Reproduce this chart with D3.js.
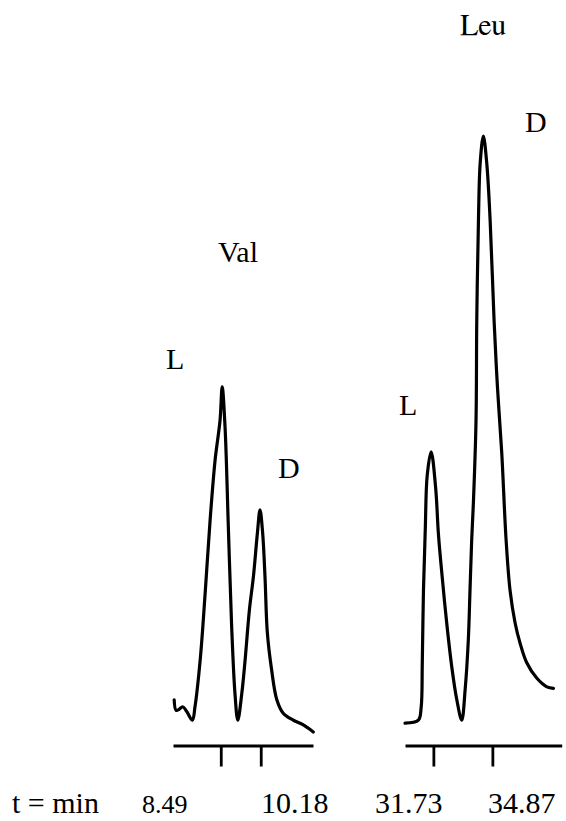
<!DOCTYPE html>
<html>
<head>
<meta charset="utf-8">
<script src="https://cdn.jsdelivr.net/npm/d3@7"></script>
</head>
<body style="margin:0">
<script>
// ---- data (retention time in min, detector signal in arbitrary units) ----
const valTime = [6.52, 6.60, 6.74, 6.88, 7.05, 7.29, 7.40, 7.62, 7.83, 8.04, 8.25, 8.46, 8.55, 8.67, 8.81, 8.95, 9.09, 9.21, 9.38, 9.52, 9.70, 9.87, 10.04, 10.15, 10.26, 10.36, 10.46, 10.64, 10.86, 11.13, 11.56, 11.98, 12.40];
const valSignal = [3.8, 2.0, 2.2, 2.6, 1.8, 0.3, 2.6, 10.6, 22.0, 34.5, 44.7, 51.5, 57.2, 50.4, 33.3, 16.3, 4.9, 0.3, 4.9, 10.6, 19.1, 24.8, 32.3, 36.2, 32.3, 24.8, 15.2, 8.9, 3.8, 1.5, 0.3, -0.5, -1.7];

const leuTime = [30.22, 30.93, 31.08, 31.14, 31.20, 31.30, 31.40, 31.61, 31.85, 32.00, 32.18, 32.44, 32.71, 32.98, 33.24, 33.42, 33.59, 33.68, 33.77, 33.86, 34.00, 34.04, 34.13, 34.22, 34.39, 34.57, 34.75, 34.96, 35.14, 35.37, 35.60, 35.81, 36.08, 36.34, 36.70, 37.23, 37.77, 38.12];
const leuSignal = [-0.2, 0.3, 2.5, 10.0, 22.0, 33.0, 42.0, 46.1, 40.0, 32.0, 25.4, 16.9, 9.4, 3.75, 0.3, 5.5, 14.0, 22.5, 31.1, 37.4, 51.5, 68.6, 85.7, 95.3, 100, 95.4, 85.7, 68.6, 57.2, 45.9, 31.1, 22.5, 16.9, 13.5, 10.1, 7.5, 6.0, 5.75];

const valTicks = [8.49, 10.18];
const leuTicks = [31.73, 34.87];
const valDomain = [6.47, 12.39];
const leuDomain = [30.22, 38.56];

const axisLabels = ["t = min", "8.49", "10.18", "31.73", "34.87"];
const compoundNames = ["Val", "Leu"];
const peakNames = ["L", "D", "L", "D"];

// ---- layout ----
const W = 566, H = 821;
const svg = d3.select("body").append("svg").attr("width", W).attr("height", H).style("display", "block");

const y = d3.scaleLinear().domain([0, 100]).range([722, 136]);
const xVal = d3.scaleLinear().domain(valDomain).range([173, 313]);
const xLeu = d3.scaleLinear().domain(leuDomain).range([405, 561.7]);
const axisY = 745.5;

function drawTrace(times, signals, x) {
  const pts = times.map((t, i) => [t, signals[i]]);
  const line = d3.line().x(d => x(d[0])).y(d => y(d[1])).curve(d3.curveCatmullRom.alpha(0.5));
  svg.append("path").datum(pts)
    .attr("d", line)
    .attr("fill", "none")
    .attr("stroke", "#000")
    .attr("stroke-width", 3.2)
    .attr("stroke-linejoin", "round")
    .attr("stroke-linecap", "round");
}
drawTrace(valTime, valSignal, xVal);
drawTrace(leuTime, leuSignal, xLeu);

function drawAxis(x, ticks) {
  const g = svg.append("g").attr("transform", `translate(0,${axisY})`)
    .call(d3.axisBottom(x).tickValues(ticks).tickSize(21).tickSizeOuter(0).tickFormat(""));
  g.attr("font-family", null).attr("font-size", null).attr("text-anchor", null);
  g.selectAll(".tick text").remove();
  g.select(".domain").attr("stroke", "#000").attr("stroke-width", 2.8);
  g.selectAll(".tick line").attr("stroke", "#000").attr("stroke-width", 2.8);
}
drawAxis(xVal, valTicks);
drawAxis(xLeu, leuTicks);

// font trial: each label set a different way
const methods = [
  s => s.attr("font-family", "\"Liberation Serif\", monospace").attr("font-size", 30),
  s => s.attr("font-family", "\"Liberation Serif\", monospace").attr("font-size", 26),
  s => s.style("font-family", "Liberation Serif").style("font-size", "30px"),
  s => s.attr("font-family", "Times New Roman").attr("font-size", 30),
  s => s.style("font", "30px \"Liberation Serif\""),
  s => s.attr("font-family", "Tinos").attr("font-size", 30),
  s => s.attr("font-family", "FreeSerif").attr("font-size", 30),
  s => s.attr("font-family", "Liberation Serif").attr("font-size", 30),
  s => s.attr("font-family", "serif").attr("font-size", 30),
  s => s.attr("font-family", "Times").attr("font-size", 30),
  s => s.attr("font-family", "\"Liberation Serif\"").attr("font-size", "30px")
];
const allText = axisLabels.concat(compoundNames, peakNames);
const allPos = [[12, 813], [142, 813], [261, 813], [375, 813], [488, 813], [218, 262], [460, 35], [166, 369], [278, 478], [399, 415], [525, 132]];
allText.forEach((d, i) => {
  const t = svg.append("text").attr("x", allPos[i][0]).attr("y", allPos[i][1]).attr("fill", "#000").text(d);
  methods[i](t);
});
</script>
</body>
</html>
